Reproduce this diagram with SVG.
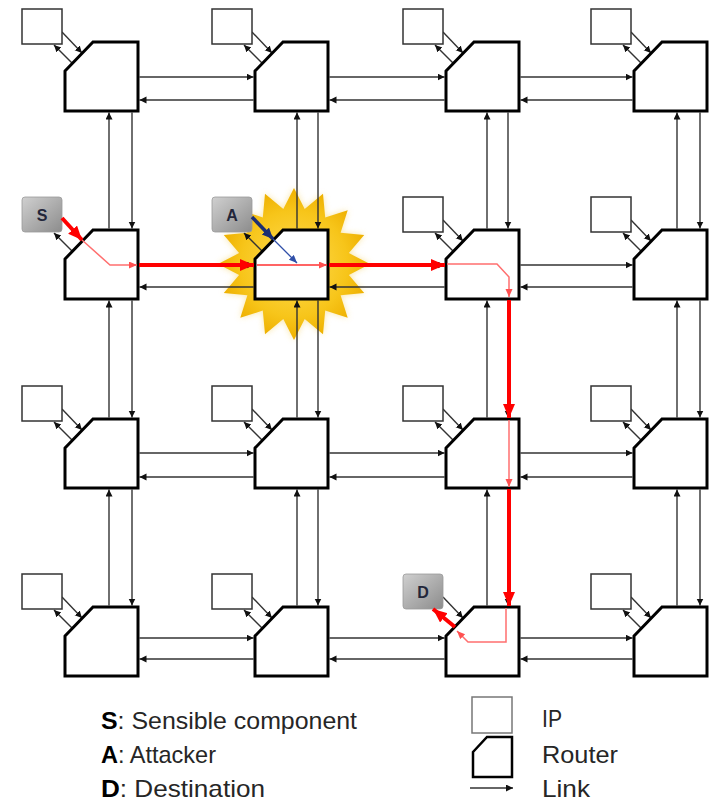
<svg xmlns="http://www.w3.org/2000/svg" width="710" height="802" viewBox="0 0 710 802">
<style>
.ip{fill:#fff;stroke:#333;stroke-width:1.5}
.rt{fill:#fff;stroke:#000;stroke-width:3;stroke-linejoin:miter}
.lk{stroke:#333;stroke-width:1.4;fill:none;marker-end:url(#a)}
.rd{stroke:#ff0000;stroke-width:4;fill:none;marker-end:url(#ra)}
.rt2{stroke:#ff6f6f;stroke-width:1.5;fill:none;marker-end:url(#rs)}
.sp{fill:url(#g);stroke:#9a9a9a;stroke-width:0.8}
.lb{font-family:"Liberation Sans",Arial,sans-serif;font-size:16px;font-weight:bold;fill:#22263a;text-anchor:middle}
.lg{font-family:"Liberation Sans",Arial,sans-serif;font-size:24px;fill:#262626}
.lgb{font-weight:bold;fill:#000}
</style>
<defs>
<marker id="a" markerUnits="userSpaceOnUse" markerWidth="8" markerHeight="8" refX="7" refY="3.5" orient="auto"><path d="M0,0 L7,3.5 L0,7 z" fill="#111"/></marker>
<marker id="ra" markerUnits="userSpaceOnUse" markerWidth="16" markerHeight="14" refX="14" refY="6" orient="auto"><path d="M0,0 L14,6 L0,12 z" fill="#ff0000"/></marker>
<marker id="rs" markerUnits="userSpaceOnUse" markerWidth="10" markerHeight="8" refX="8" refY="3.5" orient="auto"><path d="M0,0 L8,3.5 L0,7 z" fill="#ff5050"/></marker>
<marker id="ba" markerUnits="userSpaceOnUse" markerWidth="14" markerHeight="12" refX="11" refY="5" orient="auto"><path d="M0,0 L11,5 L0,10 z" fill="#1c2f73"/></marker>
<marker id="bs" markerUnits="userSpaceOnUse" markerWidth="10" markerHeight="8" refX="8" refY="3.5" orient="auto"><path d="M0,0 L8,3.5 L0,7 z" fill="#2f4fa8"/></marker>
<linearGradient id="g" x1="0" y1="0" x2="1" y2="1"><stop offset="0" stop-color="#d0d0d0"/><stop offset="1" stop-color="#8c8c8c"/></linearGradient>
<radialGradient id="sg" cx="0.5" cy="0.5" r="0.5"><stop offset="0" stop-color="#ffdd55"/><stop offset="0.7" stop-color="#f7c51a"/><stop offset="1" stop-color="#eeb000"/></radialGradient>
<filter id="blur" x="-20%" y="-20%" width="140%" height="140%"><feGaussianBlur stdDeviation="3"/></filter>
</defs>

<g id="star">
<polygon filter="url(#blur)" fill="#f5d46a" opacity="0.6" points="294,188 304.7,209.1 323,193.8 325.2,217.4 347.7,210.3 340.6,232.8 364.2,235 348.9,253.1 370,264 348.9,274.9 364.2,293 340.6,295.2 347.7,317.7 325.2,310.6 323,334.2 304.7,318.9 294,340 283.3,318.9 265,334.2 262.8,310.6 240.3,317.7 247.4,295.2 223.8,293 239.1,274.9 218,264 239.1,253.1 223.8,235 247.4,232.8 240.3,210.3 262.8,217.4 265,193.8 283.3,209.1"/>
<polygon fill="url(#sg)" points="294,188 304.7,209.1 323,193.8 325.2,217.4 347.7,210.3 340.6,232.8 364.2,235 348.9,253.1 370,264 348.9,274.9 364.2,293 340.6,295.2 347.7,317.7 325.2,310.6 323,334.2 304.7,318.9 294,340 283.3,318.9 265,334.2 262.8,310.6 240.3,317.7 247.4,295.2 223.8,293 239.1,274.9 218,264 239.1,253.1 223.8,235 247.4,232.8 240.3,210.3 262.8,217.4 265,193.8 283.3,209.1"/>
</g>

<g id="links">
<line class="lk" x1="139.5" y1="77" x2="253.5" y2="77"/><line class="lk" x1="253.5" y1="100" x2="139.5" y2="100"/>
<line class="lk" x1="329.5" y1="77" x2="444.5" y2="77"/><line class="lk" x1="444.5" y1="100" x2="329.5" y2="100"/>
<line class="lk" x1="520.5" y1="77" x2="632.5" y2="77"/><line class="lk" x1="632.5" y1="100" x2="520.5" y2="100"/>
<line class="lk" x1="139.5" y1="265" x2="253.5" y2="265"/><line class="lk" x1="253.5" y1="287" x2="139.5" y2="287"/>
<line class="lk" x1="329.5" y1="265" x2="444.5" y2="265"/><line class="lk" x1="444.5" y1="287" x2="329.5" y2="287"/>
<line class="lk" x1="520.5" y1="265" x2="632.5" y2="265"/><line class="lk" x1="632.5" y1="287" x2="520.5" y2="287"/>
<line class="lk" x1="139.5" y1="453" x2="253.5" y2="453"/><line class="lk" x1="253.5" y1="477" x2="139.5" y2="477"/>
<line class="lk" x1="329.5" y1="453" x2="444.5" y2="453"/><line class="lk" x1="444.5" y1="477" x2="329.5" y2="477"/>
<line class="lk" x1="520.5" y1="453" x2="632.5" y2="453"/><line class="lk" x1="632.5" y1="477" x2="520.5" y2="477"/>
<line class="lk" x1="139.5" y1="638" x2="253.5" y2="638"/><line class="lk" x1="253.5" y1="659" x2="139.5" y2="659"/>
<line class="lk" x1="329.5" y1="638" x2="444.5" y2="638"/><line class="lk" x1="444.5" y1="659" x2="329.5" y2="659"/>
<line class="lk" x1="520.5" y1="638" x2="632.5" y2="638"/><line class="lk" x1="632.5" y1="659" x2="520.5" y2="659"/>
<line class="lk" x1="109" y1="228.5" x2="109" y2="112.5"/><line class="lk" x1="132" y1="112.5" x2="132" y2="228.5"/>
<line class="lk" x1="109" y1="417.5" x2="109" y2="300.5"/><line class="lk" x1="132" y1="300.5" x2="132" y2="417.5"/>
<line class="lk" x1="109" y1="605.5" x2="109" y2="489.5"/><line class="lk" x1="132" y1="489.5" x2="132" y2="605.5"/>
<line class="lk" x1="297" y1="228.5" x2="297" y2="112.5"/><line class="lk" x1="318" y1="112.5" x2="318" y2="228.5"/>
<line class="lk" x1="297" y1="417.5" x2="297" y2="300.5"/><line class="lk" x1="318" y1="300.5" x2="318" y2="417.5"/>
<line class="lk" x1="297" y1="605.5" x2="297" y2="489.5"/><line class="lk" x1="318" y1="489.5" x2="318" y2="605.5"/>
<line class="lk" x1="487" y1="228.5" x2="487" y2="112.5"/><line class="lk" x1="508" y1="112.5" x2="508" y2="228.5"/>
<line class="lk" x1="487" y1="417.5" x2="487" y2="300.5"/><line class="lk" x1="508" y1="300.5" x2="508" y2="417.5"/>
<line class="lk" x1="487" y1="605.5" x2="487" y2="489.5"/><line class="lk" x1="508" y1="489.5" x2="508" y2="605.5"/>
<line class="lk" x1="677" y1="228.5" x2="677" y2="112.5"/><line class="lk" x1="700" y1="112.5" x2="700" y2="228.5"/>
<line class="lk" x1="677" y1="417.5" x2="677" y2="300.5"/><line class="lk" x1="700" y1="300.5" x2="700" y2="417.5"/>
<line class="lk" x1="677" y1="605.5" x2="677" y2="489.5"/><line class="lk" x1="700" y1="489.5" x2="700" y2="605.5"/>
<line class="lk" x1="62" y1="32" x2="82" y2="53"/><line class="lk" x1="72" y1="63" x2="54" y2="45"/>
<line class="lk" x1="252" y1="32" x2="272" y2="53"/><line class="lk" x1="262" y1="63" x2="244" y2="45"/>
<line class="lk" x1="443" y1="32" x2="463" y2="53"/><line class="lk" x1="453" y1="63" x2="435" y2="45"/>
<line class="lk" x1="631" y1="32" x2="651" y2="53"/><line class="lk" x1="641" y1="63" x2="623" y2="45"/>
<line class="lk" x1="72" y1="251" x2="54" y2="233"/>
<line class="lk" x1="262" y1="251" x2="244" y2="233"/>
<line class="lk" x1="443" y1="220" x2="463" y2="241"/><line class="lk" x1="453" y1="251" x2="435" y2="233"/>
<line class="lk" x1="631" y1="220" x2="651" y2="241"/><line class="lk" x1="641" y1="251" x2="623" y2="233"/>
<line class="lk" x1="62" y1="409" x2="82" y2="430"/><line class="lk" x1="72" y1="440" x2="54" y2="422"/>
<line class="lk" x1="252" y1="409" x2="272" y2="430"/><line class="lk" x1="262" y1="440" x2="244" y2="422"/>
<line class="lk" x1="443" y1="409" x2="463" y2="430"/><line class="lk" x1="453" y1="440" x2="435" y2="422"/>
<line class="lk" x1="631" y1="409" x2="651" y2="430"/><line class="lk" x1="641" y1="440" x2="623" y2="422"/>
<line class="lk" x1="62" y1="597" x2="82" y2="618"/><line class="lk" x1="72" y1="628" x2="54" y2="610"/>
<line class="lk" x1="252" y1="597" x2="272" y2="618"/><line class="lk" x1="262" y1="628" x2="244" y2="610"/>
<line class="lk" x1="443" y1="597" x2="463" y2="618"/>
<line class="lk" x1="631" y1="597" x2="651" y2="618"/><line class="lk" x1="641" y1="628" x2="623" y2="610"/>
</g>

<g id="ips">
<rect id="ip11" class="ip" x="22" y="9" width="40" height="35"/>
<rect id="ip12" class="ip" x="212" y="9" width="40" height="35"/>
<rect id="ip13" class="ip" x="403" y="9" width="40" height="35"/>
<rect id="ip14" class="ip" x="591" y="9" width="40" height="35"/>
<rect id="ip23" class="ip" x="403" y="197" width="40" height="35"/>
<rect id="ip24" class="ip" x="591" y="197" width="40" height="35"/>
<rect id="ip31" class="ip" x="22" y="386" width="40" height="35"/>
<rect id="ip32" class="ip" x="212" y="386" width="40" height="35"/>
<rect id="ip33" class="ip" x="403" y="386" width="40" height="35"/>
<rect id="ip34" class="ip" x="591" y="386" width="40" height="35"/>
<rect id="ip41" class="ip" x="22" y="574" width="40" height="35"/>
<rect id="ip42" class="ip" x="212" y="574" width="40" height="35"/>
<rect id="ip44" class="ip" x="591" y="574" width="40" height="35"/>
</g>

<g id="nodeS"><rect class="sp" x="22" y="197" width="40" height="35" rx="3"/><text class="lb" x="42" y="220.5">S</text></g>
<g id="nodeA"><rect class="sp" x="212" y="197" width="40" height="35" rx="3"/><text class="lb" x="232" y="220.5">A</text></g>
<g id="nodeD"><rect class="sp" x="403" y="574" width="40" height="35" rx="3"/><text class="lb" x="423" y="597.5">D</text></g>

<g id="routers">
<path id="r11" class="rt" d="M65,71 L93,42 L138,42 L138,111 L65,111 Z"/>
<path id="r12" class="rt" d="M255,71 L283,42 L328,42 L328,111 L255,111 Z"/>
<path id="r13" class="rt" d="M446,71 L474,42 L519,42 L519,111 L446,111 Z"/>
<path id="r14" class="rt" d="M634,71 L662,42 L707,42 L707,111 L634,111 Z"/>
<path id="r21" class="rt" d="M65,259 L93,230 L138,230 L138,299 L65,299 Z"/>
<path id="r22" class="rt" d="M255,259 L283,230 L328,230 L328,299 L255,299 Z"/>
<path id="r23" class="rt" d="M446,259 L474,230 L519,230 L519,299 L446,299 Z"/>
<path id="r24" class="rt" d="M634,259 L662,230 L707,230 L707,299 L634,299 Z"/>
<path id="r31" class="rt" d="M65,448 L93,419 L138,419 L138,488 L65,488 Z"/>
<path id="r32" class="rt" d="M255,448 L283,419 L328,419 L328,488 L255,488 Z"/>
<path id="r33" class="rt" d="M446,448 L474,419 L519,419 L519,488 L446,488 Z"/>
<path id="r34" class="rt" d="M634,448 L662,419 L707,419 L707,488 L634,488 Z"/>
<path id="r41" class="rt" d="M65,636 L93,607 L138,607 L138,676 L65,676 Z"/>
<path id="r42" class="rt" d="M255,636 L283,607 L328,607 L328,676 L255,676 Z"/>
<path id="r43" class="rt" d="M446,636 L474,607 L519,607 L519,676 L446,676 Z"/>
<path id="r44" class="rt" d="M634,636 L662,607 L707,607 L707,676 L634,676 Z"/>
</g>

<g id="paths">
<line class="rd" x1="62" y1="218" x2="82" y2="240"/>
<polyline class="rt2" points="82,240 110,265 137,265"/>
<line class="rd" x1="139" y1="265" x2="254" y2="265"/>
<line class="rt2" x1="257" y1="265" x2="327" y2="265" style="stroke:#ff3030"/>
<line class="rd" x1="329" y1="265" x2="445" y2="265"/>
<polyline class="rt2" points="447,264 497,264 509,277 509,297"/>
<line class="rd" x1="509" y1="300" x2="509" y2="418"/>
<line class="rt2" x1="509" y1="420" x2="509" y2="487"/>
<line class="rd" x1="509" y1="489" x2="509" y2="606"/>
<polyline class="rt2" points="506,608 506,642 468,642 457,631"/>
<line class="rd" x1="455" y1="627" x2="433" y2="609"/>
<line x1="252" y1="217" x2="273" y2="239" stroke="#1c2f73" stroke-width="3.5" marker-end="url(#ba)"/>
<line x1="273" y1="239" x2="297" y2="263" stroke="#2f4fa8" stroke-width="1.3" marker-end="url(#bs)"/>
</g>

<g id="legend">
<text class="lg" x="101" y="729" textLength="256" lengthAdjust="spacingAndGlyphs"><tspan class="lgb">S</tspan>: Sensible component</text>
<text class="lg" x="101" y="763" textLength="115" lengthAdjust="spacingAndGlyphs"><tspan class="lgb">A</tspan>: Attacker</text>
<text class="lg" x="101" y="797" textLength="164" lengthAdjust="spacingAndGlyphs"><tspan class="lgb">D</tspan>: Destination</text>
<rect x="472" y="697" width="40" height="36" fill="#fff" stroke="#777" stroke-width="1.5"/>
<path d="M473,752 L487,737 L512,737 L512,777 L473,777 Z" fill="#fff" stroke="#000" stroke-width="2.5"/>
<line class="lk" x1="470" y1="788" x2="513" y2="788"/>
<text class="lg" x="542" y="727" textLength="20" lengthAdjust="spacingAndGlyphs">IP</text>
<text class="lg" x="542" y="763" textLength="76" lengthAdjust="spacingAndGlyphs">Router</text>
<text class="lg" x="542" y="797" textLength="48" lengthAdjust="spacingAndGlyphs">Link</text>
</g>
</svg>
